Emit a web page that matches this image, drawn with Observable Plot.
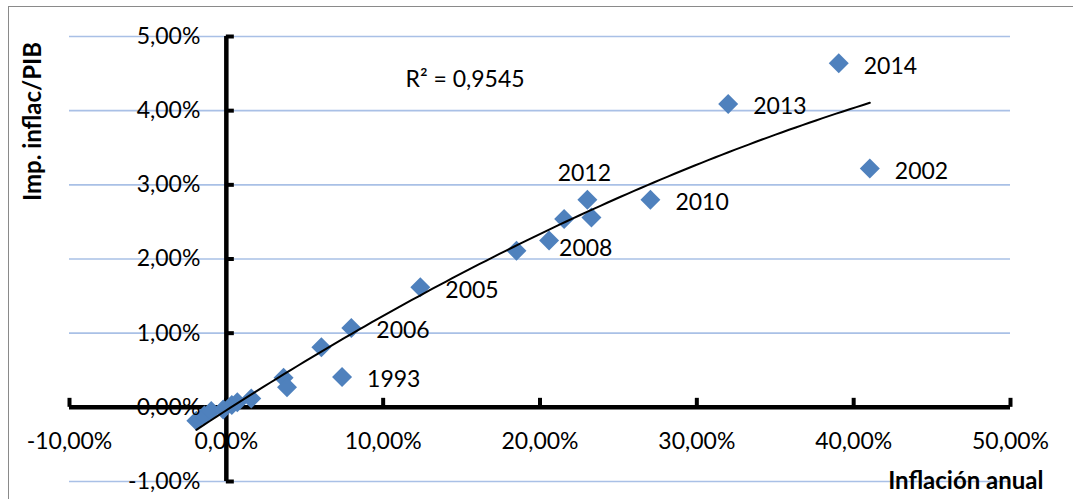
<!DOCTYPE html>
<html><head><meta charset="utf-8">
<script src="https://cdn.jsdelivr.net/npm/d3@7"></script>
<script src="https://cdn.jsdelivr.net/npm/@observablehq/plot@0.6"></script>
<style>
html,body{margin:0;padding:0;background:#fff;overflow:hidden}
#wrap{position:relative;width:1073px;height:499px;overflow:hidden}
#border{position:absolute;left:8px;top:6px;width:1200px;height:700px;border:1.5px solid #8a8a8a;box-sizing:border-box}
#chart{position:absolute;left:0;top:0}
</style></head><body>
<div id="wrap"><div id="border"></div><div id="chart"></div></div>
<script>
// Values in percent
const inflation = [-1.91, -1.40, -0.96, -0.20, 0.35, 0.70, 1.59, 3.65, 3.87, 6.06, 7.38, 7.97, 12.37, 18.50, 20.58, 21.54, 23.02, 23.28, 27.04, 32.00, 39.05, 41.03];
const impRatio  = [-0.18, -0.11, -0.05, -0.03, 0.03, 0.07, 0.12, 0.40, 0.27, 0.81, 0.41, 1.07, 1.62, 2.11, 2.25, 2.54, 2.80, 2.56, 2.80, 4.09, 4.64, 3.22];
const yearLabels = ["", "", "", "", "", "", "", "", "", "", "1993", "2006", "2005", "", "2008", "", "2012", "", "2010", "2013", "2014", "2002"];
const xTicks = [-10, 0, 10, 20, 30, 40, 50];
const yTicks = [-1, 0, 1, 2, 3, 4, 5];
const r2Text = "R² = 0,9545";
const xTitle = "Inflación anual";
const yTitle = "Imp. inflac/PIB";
const labelAbove = ["2012"];
const labelBelow = ["2008"];

const points = inflation.map((x, i) => ({x, y: impRatio[i], label: yearLabels[i]}));
const fmt = d => d.toFixed(2).replace(".", ",") + "%";

// least-squares quadratic trendline from the data
function polyfit2(xs, ys) {
  const S = [0,0,0,0,0], T = [0,0,0];
  xs.forEach((x, i) => {
    for (let k = 0; k < 5; k++) S[k] += Math.pow(x, k);
    for (let k = 0; k < 3; k++) T[k] += ys[i] * Math.pow(x, k);
  });
  const A = [[S[0],S[1],S[2],T[0]],[S[1],S[2],S[3],T[1]],[S[2],S[3],S[4],T[2]]];
  for (let c = 0; c < 3; c++) {
    for (let r = c + 1; r < 3; r++) {
      const f = A[r][c] / A[c][c];
      for (let k = c; k < 4; k++) A[r][k] -= f * A[c][k];
    }
  }
  const s = [0,0,0];
  for (let r = 2; r >= 0; r--) {
    let v = A[r][3];
    for (let k = r + 1; k < 3; k++) v -= A[r][k] * s[k];
    s[r] = v / A[r][r];
  }
  return s;
}
const coef = polyfit2(inflation, impRatio);
const [xmin, xmax] = d3.extent(inflation);
const trend = d3.range(0, 101).map(i => {
  const x = xmin + (xmax - xmin) * i / 100;
  return {x, y: coef[0] + coef[1] * x + coef[2] * x * x};
});

const plot = Plot.plot({
  width: 1073, height: 499,
  marginLeft: 69, marginRight: 63, marginTop: 36, marginBottom: 18,
  style: {fontFamily: "Lato, 'Open Sans', sans-serif", background: "transparent", color: "#000"},
  x: {domain: [-10, 50], axis: null},
  y: {domain: [-1, 5], axis: null},
  marks: [
    Plot.ruleY(yTicks, {y: d => d, stroke: "#a9c0e6", strokeWidth: 1.6}),
    Plot.ruleY([0], {x1: () => -10, x2: () => 50, y: d => d, stroke: "#000", strokeWidth: 4.5}),
    Plot.ruleX([0], {y1: () => -1, y2: () => 5, x: d => d, stroke: "#000", strokeWidth: 4.5}),
    Plot.ruleX(xTicks, {x: d => d, y1: () => 0, y2: () => 0, insetTop: -9, stroke: "#000", strokeWidth: 4}),
    Plot.ruleY(yTicks, {y: d => d, x1: () => 0, x2: () => 0, insetRight: -8, stroke: "#000", strokeWidth: 4}),
    Plot.dot(points, {x: "x", y: "y", symbol: "diamond2", r: 9, fill: "#4f81bd", stroke: "none"}),
    Plot.line(trend, {x: "x", y: "y", stroke: "#000", strokeWidth: 2, curve: "linear"}),
    Plot.text(yTicks, {x: () => 0, y: d => d, text: fmt, textAnchor: "end", dx: -26, fontSize: 23}),
    Plot.text(xTicks, {x: d => d, y: () => 0, text: fmt, dy: 34, fontSize: 23}),
    Plot.text(points.filter(d => d.label && !labelAbove.includes(d.label) && !labelBelow.includes(d.label)),
      {x: "x", y: "y", text: "label", textAnchor: "start", dx: 25, dy: 3, fontSize: 23}),
    Plot.text(points.filter(d => labelAbove.includes(d.label)),
      {x: "x", y: "y", text: "label", dx: -3, dy: -26, fontSize: 23}),
    Plot.text(points.filter(d => labelBelow.includes(d.label)),
      {x: "x", y: "y", text: "label", textAnchor: "start", dx: 10, dy: 8, fontSize: 23}),
    Plot.text([r2Text], {frameAnchor: "top-left", text: d => d, textAnchor: "start", lineAnchor: "middle", dx: 336, dy: 43, fontSize: 23}),
    Plot.text([xTitle], {frameAnchor: "bottom-right", text: d => d, textAnchor: "end", lineAnchor: "middle", dx: 33, dy: 0, fontSize: 24, fontWeight: "bold"}),
    Plot.text([yTitle], {frameAnchor: "top-left", text: d => d, textAnchor: "middle", lineAnchor: "middle", rotate: -90, dx: -36, dy: 85, fontSize: 24, fontWeight: "bold"})
  ]
});
document.getElementById("chart").appendChild(plot);
</script>
</body></html>
